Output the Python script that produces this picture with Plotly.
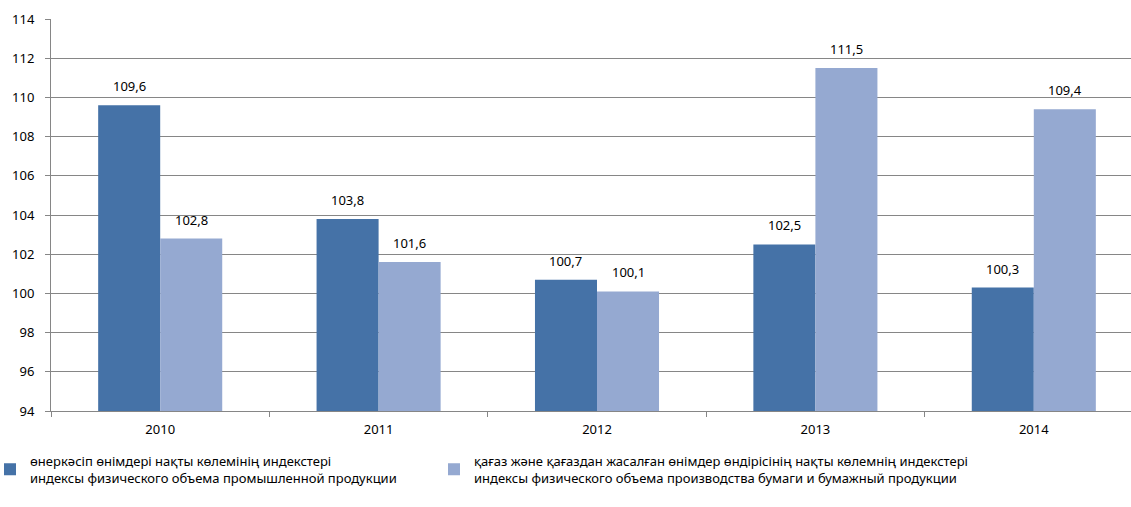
import plotly.graph_objects as go

years = ["2010", "2011", "2012", "2013", "2014"]
industrial = [109.6, 103.8, 100.7, 102.5, 100.3]
paper = [102.8, 101.6, 100.1, 111.5, 109.4]
name_industrial = "өнеркәсіп өнімдері нақты көлемінің индекстері<br>индексы физического объема промышленной продукции"
name_paper = "қағаз және қағаздан жасалған өнімдер өндірісінің нақты көлемнің индекстері<br>индексы физического объема производства бумаги и бумажный продукции"
y_ticks = list(range(94, 115, 2))

W, H = 1131, 507
ML, MR, MT, MB = 51, 0, 19, 96
CAT_PX = 218.4            # width of one category in pixels
BARGAP = 0.432
plot_w = W - ML - MR
x_range = [-0.5, -0.5 + plot_w / CAT_PX]
bar_px = CAT_PX * (1 - BARGAP) / 2
FONT = "Noto Sans, Open Sans, sans-serif"

fig = go.Figure()
fig.add_trace(go.Bar(x=years, y=industrial, name=name_industrial, legend="legend",
                     marker=dict(color="#4572A7", line=dict(width=0))))
fig.add_trace(go.Bar(x=years, y=paper, name=name_paper, legend="legend2",
                     marker=dict(color="#95A9D1", line=dict(width=0))))

annotations = []
for series, sign in ((industrial, -1), (paper, 1)):
    for i, v in enumerate(series):
        annotations.append(dict(
            x=i, y=v, xref="x", yref="y",
            text=f"{v:.1f}".replace(".", ","), showarrow=False,
            xshift=sign * bar_px / 2, yshift=8, yanchor="bottom",
            font=dict(family=FONT, size=13, color="#000000"),
        ))

legend_common = dict(
    orientation="h", xref="container", yref="container",
    y=0.028, xanchor="left", yanchor="bottom",
    font=dict(family=FONT, size=13), itemwidth=30,
    bgcolor="rgba(0,0,0,0)",
)

fig.update_layout(
    width=W, height=H,
    margin=dict(l=ML, r=MR, t=MT, b=MB, autoexpand=False),
    paper_bgcolor="white", plot_bgcolor="white",
    font=dict(family=FONT, size=13, color="#000000"),
    barmode="group", bargap=BARGAP, bargroupgap=0,
    showlegend=True,
    annotations=annotations,
    legend=dict(x=0, indentation=-10, **legend_common),
    legend2=dict(x=(476 - 42) / W, **legend_common),
)
fig.update_yaxes(
    range=[94, 114], tickvals=y_ticks, automargin=False,
    showgrid=True, gridcolor="#868686", gridwidth=1,
    showline=True, linecolor="#868686", linewidth=1,
    ticks="outside", ticklen=5, tickcolor="#868686",
    zeroline=False, ticklabelstandoff=8,
)
fig.update_xaxes(
    type="category", automargin=False, range=x_range,
    showline=True, linecolor="#868686", linewidth=1,
    ticks="outside", ticklen=5, tickcolor="#868686",
    tickson="boundaries", showgrid=False, ticklabelstandoff=6,
)

fig.write_html("out.html", config={"displayModeBar": False},
               post_script="document.body.style.margin='0px';")
